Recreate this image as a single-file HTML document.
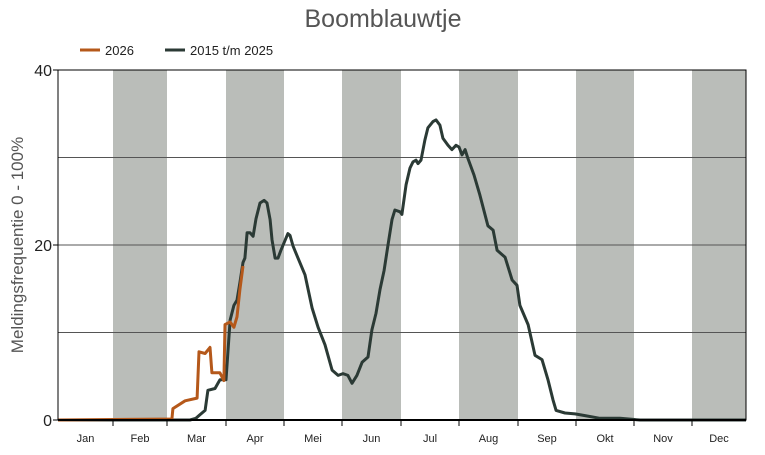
<!DOCTYPE html>
<html><head><meta charset="utf-8"><style>
body{margin:0;background:#fff;font-family:"Liberation Sans",sans-serif}
svg text{font-family:"Liberation Sans",sans-serif}
</style></head><body>
<svg id="chart" width="765" height="450" xmlns="http://www.w3.org/2000/svg">
<text x="383" y="27" text-anchor="middle" font-size="25" fill="#555">Boomblauwtje</text>
<g>
<line x1="80" y1="50" x2="100" y2="50" stroke="#b5581a" stroke-width="3"/>
<text x="105" y="55" font-size="13" fill="#222">2026</text>
<line x1="165" y1="50" x2="185" y2="50" stroke="#2b3a35" stroke-width="3"/>
<text x="190" y="55" font-size="13" fill="#222">2015 t/m 2025</text>
</g>
<text transform="translate(23,245) rotate(-90)" text-anchor="middle" font-size="17" fill="#555">Meldingsfrequentie 0 - 100%</text>
<g id="bands"></g><g id="grid"></g><g id="series"></g><g id="axes"></g>
</svg>
<script>
const months=["Jan","Feb","Mar","Apr","Mei","Jun","Jul","Aug","Sep","Okt","Nov","Dec"];
const monthDays=[31,28,31,30,31,30,31,31,30,31,30,31];
const yTicks=[0,20,40];
const gridVals=[10,20,30];
const histDays=[0,65.8,71.1,74.2,76.3,79,80.5,84.2,86.8,90,92.1,94.1,95.7,97.2,98.8,99.8,100.9,102.4,104,105.5,107.6,109.7,111.2,112.8,113.8,115.4,116.9,118.4,122.1,123.2,124.8,127.5,131.2,135,138.2,141.9,145.7,148.9,151.5,154,156.1,158.6,161.2,164.2,166.2,168.3,170.3,172.4,174.4,176.4,177.9,180.5,181.5,183.7,185.8,187.4,189,190.1,191.7,193.8,195.4,198.1,199.7,201.8,203.4,206.1,208.2,210.4,212,213.6,215.2,216.7,219.9,223,227.2,229.9,232,236.2,239.9,242.5,244,248.2,251.8,255.4,258.5,261.1,262.7,267.3,272.5,277.8,285.8,296.5,307.1,365];
const histVals=[0,0,0,0.2,0.6,1.1,3.4,3.6,4.6,4.6,11.4,13.1,13.7,15.7,18,18.5,21.4,21.4,21,23,24.8,25.1,24.8,22.9,20.6,18.5,18.5,19.4,21.3,21.1,19.9,18.5,16.6,12.8,10.6,8.6,5.7,5.1,5.3,5.1,4.2,5.1,6.6,7.2,10.3,12.2,14.9,17.1,20,22.9,24,23.8,23.5,26.9,28.8,29.5,29.7,29.3,29.7,32,33.4,34.1,34.3,33.7,32.2,31.4,30.9,31.4,31.2,30.3,30.9,29.9,28,25.7,22.2,21.7,19.4,18.6,16,15.4,13.1,10.9,7.4,6.9,4.6,2.3,1.1,0.8,0.7,0.5,0.2,0.2,0,0];
const curDays=[0,55.4,61.6,62.1,68.5,74.8,75.8,79,81.6,82.6,86.8,88.9,89.5,92.1,94.1,95.7,97.2,98.8];
const curVals=[0,0.1,0.1,1.3,2.2,2.5,7.8,7.6,8.3,5.4,5.4,4.5,10.9,11.2,10.6,11.8,14.9,17.6];

const L=58,R=746,T=70,B=420,NS="http://www.w3.org/2000/svg";
const edges=[58,113,167,226,284,342,401,459,518,576,634,692,746];
const starts=[0];monthDays.forEach((d,i)=>starts.push(starts[i]+d));
function xs(d){
  let i=0;while(i<11&&d>=starts[i+1])i++;
  return edges[i]+(d-starts[i])/monthDays[i]*(edges[i+1]-edges[i]);
}
const ys=v=>B-v*(B-T)/40;
function mk(tag,attrs,parent){const e=document.createElementNS(NS,tag);for(const k in attrs)e.setAttribute(k,attrs[k]);document.getElementById(parent).appendChild(e);return e;}
months.forEach((m,i)=>{
  const x0=edges[i],x1=edges[i+1];
  if(i%2===1){const r=mk("rect",{x:x0,y:T,width:x1-x0,height:B-T,fill:"#babdb9"},"bands");
    
    }
  const t=mk("text",{x:(x0+x1)/2,y:442,"text-anchor":"middle","font-size":"11",fill:"#222"},"axes");t.textContent=m;
  
  
  if(i>0){const tk=mk("line",{x1:x0,y1:B,x2:x0,y2:B+6,stroke:"#000","stroke-width":1},"axes");
    
    }
});
gridVals.forEach(v=>{const g=mk("line",{x1:L,y1:ys(v),x2:R,y2:ys(v),stroke:"#555","stroke-width":1},"grid");
  
  });
yTicks.forEach(v=>{const t=mk("text",{x:52,y:ys(v)+6,"text-anchor":"end","font-size":"16",fill:"#222"},"axes");t.textContent=v;
  
  
  const tk=mk("line",{x1:L-5,y1:ys(v),x2:L,y2:ys(v),stroke:"#000"},"axes");
  
  });
const frame=mk("rect",{x:L,y:T,width:R-L,height:B-T,fill:"none",stroke:"#000","stroke-width":1},"axes");


const base=mk("line",{x1:L,y1:B,x2:R,y2:B,stroke:"#000","stroke-width":2},"axes");


function line(days,vals,color,name){
  const d=days.map((dd,i)=>(i?"L":"M")+xs(dd).toFixed(1)+","+ys(vals[i]).toFixed(1)).join(" ");
  const p=mk("path",{d:d,fill:"none",stroke:color,"stroke-width":3,"stroke-linejoin":"round"},"series");
  
  
}
line(histDays,histVals,"#2b3a35","series-2015-2025");
line(curDays,curVals,"#b5581a","series-2026");
</script>
</body></html>
